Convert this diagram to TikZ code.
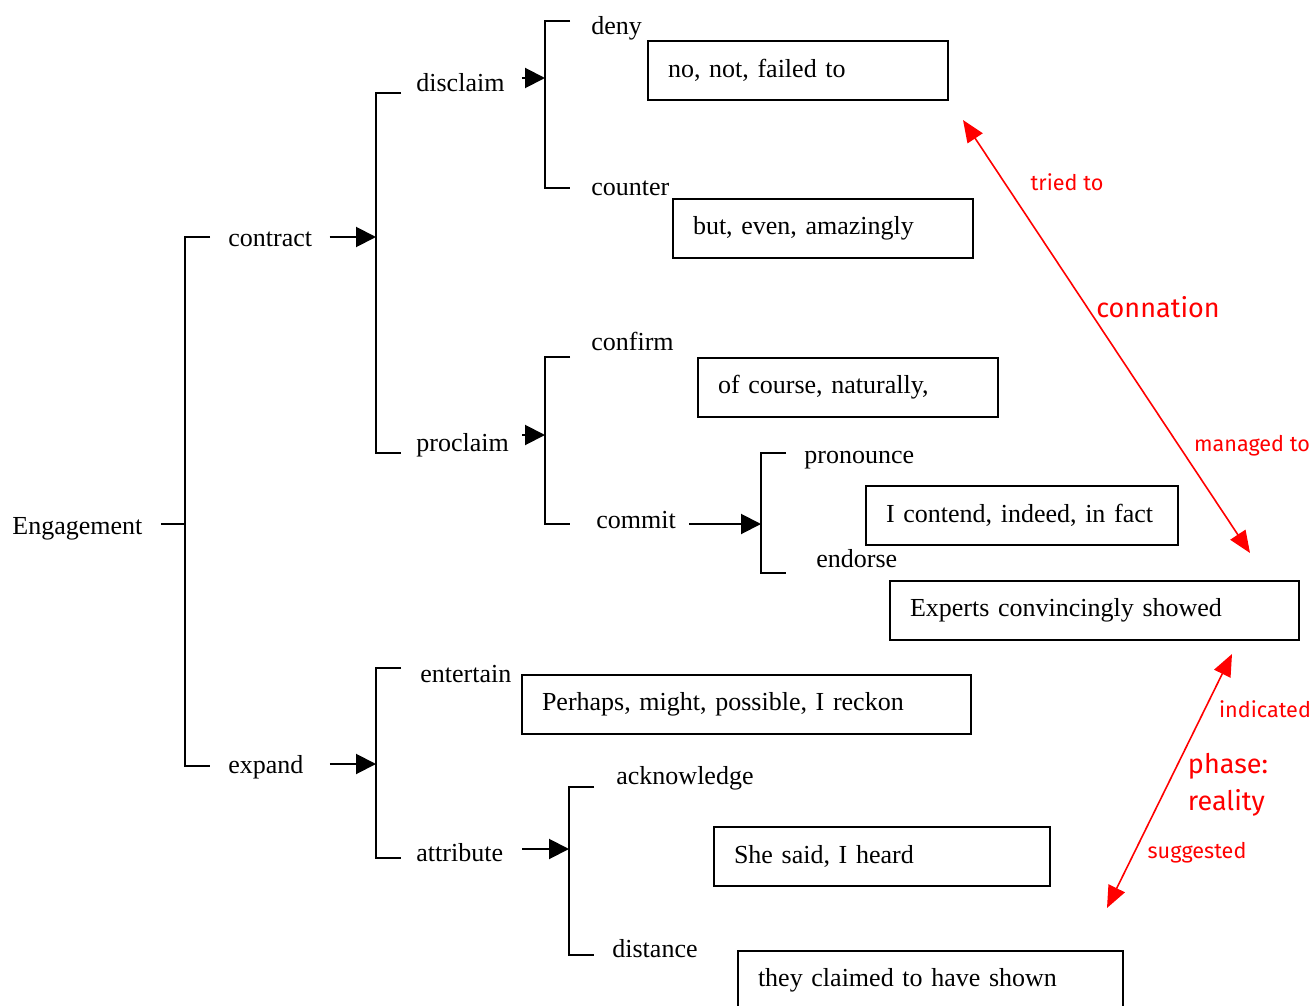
\documentclass[tikz,border=0pt]{standalone}
\usepackage{fontspec}
\setmainfont[WordSpace=0.8]{Liberation Serif}
\newfontfamily\notefont{Fira Sans}
\usetikzlibrary{arrows.meta}

\begin{document}
\begin{tikzpicture}[x=0.5pt,y=-0.5pt,
    lbl/.style={anchor=base west,inner sep=0pt,text height=9pt,text depth=3pt,
        font=\fontsize{13}{15}\selectfont},
    box/.style={draw,line width=1pt,anchor=north west,inner xsep=10pt,inner ysep=0pt,
        minimum height=29.5pt,align=left,text width=#1,font=\fontsize{13}{15}\selectfont},
    brk/.style={line width=1pt},
    arr/.style={line width=1pt,-{Triangle[length=10pt,width=10pt]}},
    redarr/.style={red,line width=0.8pt,{Triangle[length=11pt,width=9pt]}-{Triangle[length=11pt,width=9pt]}},
    note/.style={text=red,inner sep=0pt,font=\notefont\fontsize{10.8}{13}\selectfont},
    bignote/.style={note,align=left,font=\notefont\fontsize{13.5}{18.5}\selectfont}]
\useasboundingbox (0,0) rectangle (1313,1006);

% brackets
\foreach \n/\x/\t/\b in {eng/185/237/766, con/376/93/453, dis/545/21/188,
    pro/545/357/524, com/761/453/573, exp/376/668/858, att/569/787/955}
{
    \draw[brk] (\x+25,\t) -| (\x,\b) -- (\x+25,\b);
}
\coordinate (engin) at (185,524);
\coordinate (conin) at (376,237);
\coordinate (disin) at (545,78);
\coordinate (proin) at (545,435);
\coordinate (comin) at (761,524);
\coordinate (expin) at (376,764);
\coordinate (attin) at (569,849);

% labels
\node[lbl] (eng) at (12,534) {Engagement};
\node[lbl] (contract) at (228,247) {contract};
\node[lbl] (expand) at (228,773) {expand};
\node[lbl] (disclaim) at (416,92) {disclaim};
\node[lbl] (proclaim) at (416,451) {proclaim};
\node[lbl] (entertain) at (420,682) {entertain};
\node[lbl] (attribute) at (416,861) {attribute};
\node[lbl] (deny) at (591,35) {deny};
\node[lbl] (counter) at (591,196) {counter};
\node[lbl] (confirm) at (591,350) {confirm};
\node[lbl] (commit) at (596,528) {commit};
\node[lbl] (pronounce) at (804,463) {pronounce};
\node[lbl] (endorse) at (816,567) {endorse};
\node[lbl] (acknowledge) at (616,784) {acknowledge};
\node[lbl] (distance) at (612,957) {distance};

% example boxes
\node[box=130pt] (denybox) at (647,40) {no, not, failed to};
\node[box=130pt] (counterbox) at (672,198) {but, even, amazingly};
\node[box=130pt] (confirmbox) at (697,357) {of course, naturally,};
\node[box=136pt] (pronbox) at (865,485) {I contend, indeed, in fact};
\node[box=184.5pt] (endbox) at (889,580) {Experts convincingly showed};
\node[box=204.5pt] (entbox) at (521,674) {Perhaps, might, possible, I reckon};
\node[box=148pt] (ackbox) at (713,826) {She said, I heard};
\node[box=172.5pt] (distbox) at (737,950) {they claimed to have shown};

% arrows into brackets
\draw[brk] ([xshift=9pt]eng.east |- engin) -- (engin);
\draw[arr] ([xshift=8.5pt]contract.east |- conin) -- (conin);
\draw[arr] ([xshift=13pt]expand.east |- expin) -- (expin);
\draw[arr] ([xshift=8.5pt]disclaim.east |- disin) -- (disin);
\draw[arr] ([xshift=6.5pt]proclaim.east |- proin) -- (proin);
\draw[arr] ([xshift=6.5pt]commit.east |- comin) -- (comin);
\draw[arr] ([xshift=9.5pt]attribute.east |- attin) -- (attin);

% red annotations
\coordinate (contop) at (963,120);
\coordinate (conbot) at (1250,553);
\coordinate (phtop) at (1232,654);
\coordinate (phbot) at (1107,908);
\draw[redarr] (contop) -- (conbot);
\draw[redarr] (phtop) -- (phbot);
\node[note] (tried) at (1067,182) {tried to};
\node[bignote] (connation) at (1158,307) {connation};
\node[note] (managed) at (1252,446) {managed to};
\node[note] (indicated) at (1265,709) {indicated};
\node[bignote] (phase) at (1228,785) {phase:\\reality};
\node[note] (suggested) at (1197,853) {suggested};
\end{tikzpicture}
\end{document}
